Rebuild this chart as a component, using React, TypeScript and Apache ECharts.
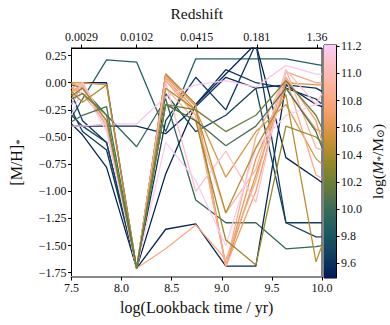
import React, { useEffect, useRef } from "react";
import * as echarts from "echarts";

// Lookback-time sample positions (log yr)
const xValues = [7.5, 7.61, 7.85, 8.15, 8.44, 8.74, 9.04, 9.34, 9.64, 9.94, 10.0];

// Stellar mass of each galaxy (log Msun)
const masses = [
  9.88, 9.95,
  9.52, 9.55, 9.58, 9.6, 9.64, 9.7,
  10.6, 10.65, 10.58, 10.7,
  10.8, 10.85, 10.92,
  11.15, 11.08, 11.2,
  10.45, 10.35,
  10.05, 10.2,
];

// [M/H]* of each galaxy at each lookback time
const metallicity: number[][] = [
  [-0.32, -0.15, 0.21, 0.19, -0.45, 0.22, 0.22, 0.22, 0.22, 0.17, 0.16],
  [-0.02, -0.05, -0.3, -0.59, -0.15, -1.08, -1.29, -1.29, -1.53, -1.51, -1.5],
  [-0.2, 0.0, 0.0, -1.71, -0.84, -0.2, 0.08, 0.36, -0.69, -0.88, -0.92],
  [-0.38, -0.48, -0.78, -1.71, -1.35, -1.3, -1.69, -1.69, -0.02, -0.2, -0.22],
  [-0.4, -0.4, -0.4, -0.4, -0.47, -0.22, 0.05, -0.05, -0.02, -0.05, -0.08],
  [-0.1, -0.35, -0.55, -1.71, 0.08, -0.2, 0.12, 0.0, -0.05, -0.15, -0.2],
  [-0.25, -0.45, -0.62, -1.71, -0.35, 0.05, -0.25, 0.36, -1.29, -1.29, -1.29],
  [-0.3, -0.4, -0.55, -1.71, -0.1, -0.45, -0.3, -0.05, -1.29, -1.42, -1.42],
  [0.0, 0.0, -0.02, -1.71, 0.08, -0.2, -1.69, -0.85, 0.0, -0.02, -0.02],
  [0.0, -0.05, -0.38, -1.71, 0.06, -0.22, -1.69, -0.7, -0.05, -0.43, -0.45],
  [-0.05, -0.1, -0.38, -1.71, 0.04, -0.25, -0.87, -0.45, -0.2, -0.7, -0.75],
  [-0.08, -0.02, -0.4, -1.71, 0.02, -0.3, -1.69, -1.0, 0.05, -0.35, -0.54],
  [-0.05, 0.0, -0.38, -1.71, -1.53, -1.31, -1.63, -0.9, 0.1, 0.0, 0.0],
  [-0.1, -0.02, -0.4, -1.71, 0.05, -0.3, -1.69, -0.5, 0.05, -0.85, -0.88],
  [-0.15, 0.0, -0.42, -1.71, -0.05, -0.35, -1.2, -0.8, 0.12, -0.6, -0.62],
  [-0.4, -0.4, -0.38, -0.38, -0.13, -0.02, 0.02, -0.04, 0.16, 0.08, 0.08],
  [-0.2, 0.0, -0.38, -1.71, 0.0, -1.0, -0.63, -1.1, 0.12, -0.2, -0.1],
  [-0.3, -0.05, -0.45, -1.71, -0.55, -0.9, -1.5, -0.6, -0.3, -0.2, -0.2],
  [-0.08, -0.18, -0.02, -1.71, -0.05, -0.25, -1.2, -0.6, -0.11, -1.65, -1.5],
  [-0.12, -0.05, -0.35, -1.71, -0.2, -0.35, -1.45, -1.68, -0.4, -0.5, -0.55],
  [-0.36, -0.3, -0.22, -1.71, -0.2, -0.35, -0.58, -0.4, -0.05, -0.45, -0.6],
  [-0.15, -0.1, -0.3, -1.71, -0.2, -0.25, -0.45, -0.3, 0.02, -0.3, -0.42],
];

const bottomTicks = [7.5, 8.0, 8.5, 9.0, 9.5, 10.0];
const leftTicks = [0.25, 0, -0.25, -0.5, -0.75, -1.0, -1.25, -1.5, -1.75];
const redshiftPos = [7.6, 8.15, 8.75, 9.35, 9.95];
const redshiftLabels = ["0.0029", "0.0102", "0.0415", "0.181", "1.36"];
const cbarTicks = [9.6, 9.8, 10.0, 10.2, 10.4, 10.6, 10.8, 11.0, 11.2];
const cbarMin = 9.49;
const cbarMax = 11.21;

// batlow colormap stops
const batlow = [
  [1, 25, 89],
  [16, 63, 96],
  [28, 90, 98],
  [60, 109, 86],
  [104, 125, 57],
  [152, 137, 40],
  [205, 146, 54],
  [243, 157, 101],
  [253, 175, 145],
  [252, 190, 190],
  [250, 204, 250],
];

function cmap(t: number): string {
  const tt = Math.max(0, Math.min(1, t)) * (batlow.length - 1);
  const i = Math.min(batlow.length - 2, Math.floor(tt));
  const f = tt - i;
  const a = batlow[i];
  const b = batlow[i + 1];
  const c = a.map((v, k) => Math.round(v + (b[k] - v) * f));
  return `rgb(${c[0]},${c[1]},${c[2]})`;
}

const FONT = "'Liberation Serif', 'DejaVu Serif', serif";
const TXT = "#111";
const minus = (s: string) => s.replace("-", "\u2212");

export default function App() {
  const ref = useRef<HTMLDivElement>(null);
  useEffect(() => {
    if (!ref.current) return;
    const chart = echarts.init(ref.current, undefined, { renderer: "svg" });

    const lineSeries = metallicity.map((vals, i) => ({
      type: "line",
      xAxisIndex: 0,
      yAxisIndex: 0,
      data: vals.map((v, j) => [xValues[j], v]),
      showSymbol: false,
      symbol: "none",
      lineStyle: { width: 1.3, color: cmap((masses[i] - cbarMin) / (cbarMax - cbarMin)) },
      clip: true,
      z: 2,
    }));

    const stops = [];
    for (let k = 0; k <= 40; k++) stops.push({ offset: k / 40, color: cmap(k / 40) });

    const labelStyle = { color: TXT, fontFamily: FONT, fontSize: 12, margin: 5 };

    chart.setOption({
      animation: false,
      grid: [
        { left: 67, top: 45, width: 255, height: 232, show: true, borderColor: "#000", borderWidth: 1, backgroundColor: "transparent" },
        { left: 324, top: 45, width: 12, height: 233, show: true, borderColor: "#000", borderWidth: 1, backgroundColor: "transparent" },
      ],
      xAxis: [
        {
          type: "value",
          gridIndex: 0,
          min: 7.5,
          max: 10.0,
          interval: 0.5,
          position: "bottom",
          splitLine: { show: false },
          axisLine: { show: true, onZero: false, lineStyle: { color: "#888", width: 2 } },
          axisTick: { show: true, length: 3.5, lineStyle: { color: "#000" }, customValues: bottomTicks },
          axisLabel: { ...labelStyle, customValues: bottomTicks, formatter: (v: number) => v.toFixed(1) },
          name: "log(Lookback time / yr)",
          nameLocation: "middle",
          nameGap: 22,
          nameTextStyle: { fontFamily: FONT, fontSize: 16, color: TXT },
        },
        {
          type: "value",
          gridIndex: 0,
          min: 7.5,
          max: 10.0,
          position: "top",
          splitLine: { show: false },
          axisLine: { show: true, onZero: false, lineStyle: { color: "#000", width: 1 } },
          axisTick: { show: true, length: 3.5, lineStyle: { color: "#000" }, customValues: redshiftPos },
          axisLabel: {
            ...labelStyle,
            customValues: redshiftPos,
            formatter: (v: number) => {
              const idx = redshiftPos.findIndex((p) => Math.abs(p - v) < 1e-6);
              return idx >= 0 ? redshiftLabels[idx] : "";
            },
          },
          name: "Redshift",
          nameLocation: "middle",
          nameGap: 27,
          nameTextStyle: { fontFamily: FONT, fontSize: 15.5, color: TXT },
        },
        { type: "value", gridIndex: 1, min: 0, max: 1, show: false },
      ],
      yAxis: [
        {
          type: "value",
          gridIndex: 0,
          min: -1.79,
          max: 0.32,
          splitLine: { show: false },
          axisLine: { show: true, onZero: false, lineStyle: { color: "#000" } },
          axisTick: { show: true, length: 3.5, lineStyle: { color: "#000" }, customValues: leftTicks },
          axisLabel: { ...labelStyle, customValues: leftTicks, formatter: (v: number) => minus(v.toFixed(2)) },
          name: "{n|[M/H]}{s|*}",
          nameLocation: "middle",
          nameGap: 47,
          nameRotate: 90,
          nameTextStyle: {
            rich: {
              n: { fontFamily: FONT, fontSize: 16, color: TXT },
              s: { fontFamily: FONT, fontSize: 11, color: TXT, verticalAlign: "bottom", padding: [6, 0, 0, 0] },
            },
          },
        },
        {
          type: "value",
          gridIndex: 1,
          min: cbarMin,
          max: cbarMax,
          position: "right",
          splitLine: { show: false },
          axisLine: { show: true, onZero: false, lineStyle: { color: "#000" } },
          axisTick: { show: true, length: 3.5, lineStyle: { color: "#000" }, customValues: cbarTicks },
          axisLabel: { ...labelStyle, customValues: cbarTicks, formatter: (v: number) => v.toFixed(1) },
          name: "{r|log(}{i|M}{s|*}{r|/M}{s|\u2299}{r|)}",
          nameLocation: "middle",
          nameGap: 33,
          nameRotate: 90,
          nameTextStyle: {
            rich: {
              r: { fontFamily: FONT, fontSize: 15.5, color: TXT },
              i: { fontFamily: FONT, fontSize: 15.5, fontStyle: "italic", color: TXT },
              s: { fontFamily: FONT, fontSize: 10.5, color: TXT, verticalAlign: "bottom", padding: [6, 0, 0, 0] },
            },
          },
        },
      ],
      series: [
        ...lineSeries,
        {
          type: "custom",
          xAxisIndex: 2,
          yAxisIndex: 1,
          data: [[0, cbarMin]],
          renderItem: (params: any, api: any) => {
            const p0 = api.coord([0, cbarMin]);
            const p1 = api.coord([1, cbarMax]);
            return {
              type: "rect",
              shape: { x: p0[0], y: p1[1], width: p1[0] - p0[0], height: p0[1] - p1[1] },
              style: { fill: new echarts.graphic.LinearGradient(0, 1, 0, 0, stops) },
            };
          },
          z: 1,
        },
      ],
    } as any);
    return () => chart.dispose();
  }, []);
  return <div ref={ref} style={{ width: 390, height: 325, position: "absolute", left: 0, top: 0 }} />;
}
